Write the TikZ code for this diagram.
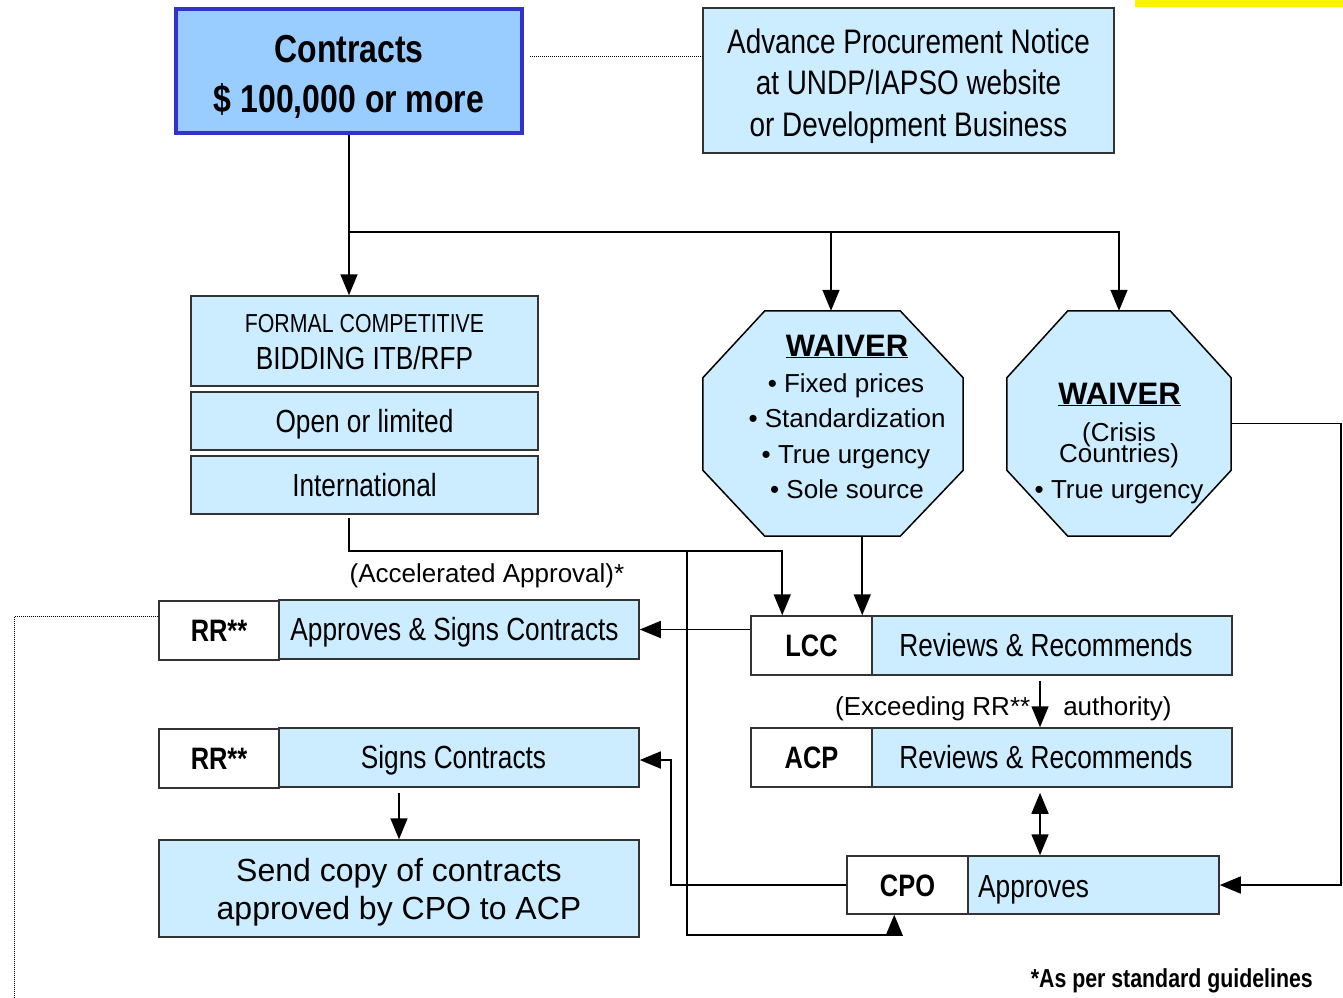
\documentclass[tikz,border=0pt]{standalone}
\usepackage{fontspec}
\setmainfont{Liberation Sans}
\newfontfamily\nar[FakeStretch=0.82]{Liberation Sans}
\usetikzlibrary{arrows.meta}
\definecolor{lightb}{HTML}{CCECFF}
\definecolor{medb}{HTML}{99CCFF}
\definecolor{bordb}{HTML}{3333CC}
\definecolor{bord}{HTML}{333333}
\newcommand\fsz[1]{\fontsize{#1}{#1}\selectfont}
\begin{document}
\begin{tikzpicture}[x=1pt,y=-1pt,
  box/.style={draw=bord,line width=1.5pt,fill=lightb,inner sep=0pt,text depth=0pt},
  wbox/.style={box,fill=white},
  nr/.style={font=\nar\fsz{32},text height=22.9pt},
  nb/.style={font=\nar\bfseries\fsz{31},text height=22.2pt},
  txt/.style={inner sep=0pt,anchor=base},
  arr/.style={line width=1.6pt,-{Triangle[width=17pt,length=21pt]}},
  darr/.style={line width=1.6pt,{Triangle[width=17pt,length=21pt]}-{Triangle[width=17pt,length=21pt]}},
  dots/.style={line width=1pt,dash pattern=on 1pt off 1pt},
  oct/.style={draw=black,line width=1.5pt,fill=lightb}]

\useasboundingbox (0,0) rectangle (1343,997);
\fill[yellow] (1135,0) rectangle (1343,7);

% top boxes
\node[box,fill=medb,draw=bordb,line width=4pt,minimum width=346pt,minimum height=124pt] (contracts) at (349,71) {};
\node[txt,font=\nar\bfseries\fsz{39}] (c1) at (349,62) {Contracts};
\node[txt,font=\nar\bfseries\fsz{39}] (c2) at (349,112) {\$ 100,000 or more};

\node[box,minimum width=411pt,minimum height=145pt] (adv) at (908.5,80.5) {};
\node[txt,font=\nar\fsz{34}] (a1) at (908.5,53) {Advance Procurement Notice};
\node[txt,font=\nar\fsz{34}] (a2) at (908.5,94) {at UNDP/IAPSO website};
\node[txt,font=\nar\fsz{34}] (a3) at (908.5,136) {or Development Business};

% formal bidding
\node[box,minimum width=347pt,minimum height=90pt] (formal) at (364.5,341) {};
\node[txt,font=\nar\fsz{26}] (f1) at (364.5,332) {FORMAL COMPETITIVE};
\node[txt,font=\nar\fsz{32}] (f2) at (364.5,369) {BIDDING ITB/RFP};
\node[box,nr,minimum width=347pt,minimum height=58pt] (openl) at (364.5,421) {Open or limited};
\node[box,nr,minimum width=347pt,minimum height=58pt] (intl) at (364.5,485) {International};

% waiver 1
\node[minimum width=260pt,minimum height=225pt,inner sep=0pt] (w1) at (833,423.5) {};
\draw[oct] ([xshift=62pt]w1.north west) -- ([xshift=-63pt]w1.north east) -- ([yshift=-67pt]w1.north east)
  -- ([yshift=66pt]w1.south east) -- ([xshift=-63pt]w1.south east) -- ([xshift=62pt]w1.south west)
  -- ([yshift=66pt]w1.south west) -- ([yshift=-67pt]w1.north west) -- cycle;
\node[txt,font=\bfseries\fsz{31}] (w1t) at (847,356) {\underline{WAIVER}};
\node[txt,font=\fsz{26}] (w1a) at (846,392) {\textbullet\ Fixed prices};
\node[txt,font=\fsz{26}] (w1b) at (847,427) {\textbullet\ Standardization};
\node[txt,font=\fsz{26}] (w1c) at (846,463) {\textbullet\ True urgency};
\node[txt,font=\fsz{26}] (w1d) at (847,498) {\textbullet\ Sole source};

% waiver 2
\node[minimum width=224pt,minimum height=225pt,inner sep=0pt] (w2) at (1119,423.5) {};
\draw[oct] ([xshift=61pt]w2.north west) -- ([xshift=-61pt]w2.north east) -- ([yshift=-67pt]w2.north east)
  -- ([yshift=66pt]w2.south east) -- ([xshift=-61pt]w2.south east) -- ([xshift=61pt]w2.south west)
  -- ([yshift=66pt]w2.south west) -- ([yshift=-67pt]w2.north west) -- cycle;
\node[txt,font=\bfseries\fsz{31}] (w2t) at (1119.5,404) {\underline{WAIVER}};
\node[txt,font=\fsz{26}] (w2a) at (1119,441) {(Crisis};
\node[txt,font=\fsz{26}] (w2b) at (1119,462) {Countries)};
\node[txt,font=\fsz{26}] (w2c) at (1119,498) {\textbullet\ True urgency};

% RR boxes
\node[box,nr,minimum width=360pt,minimum height=59pt] (rr1b) at (459,629.5) {Approves \& Signs Contracts\hspace*{9pt}};
\node[wbox,nb,minimum width=120pt,minimum height=59pt] (rr1w) at (219,630.5) {RR**};
\node[box,nr,minimum width=360pt,minimum height=59pt] (rr2b) at (459,757.5) {Signs Contracts\hspace*{11pt}};
\node[wbox,nb,minimum width=120pt,minimum height=59pt] (rr2w) at (219,758.5) {RR**};
\node[box,minimum width=480pt,minimum height=97pt] (send) at (399,888.5) {};
\node[txt,font=\fsz{32}] (s1) at (399,881) {Send copy of contracts};
\node[txt,font=\fsz{32}] (s2) at (399,919) {approved by CPO to ACP};

% LCC / ACP / CPO
\node[box,nr,minimum width=360pt,minimum height=59pt] (lccr) at (1052,645.5) {Reviews \& Recommends\hspace*{12pt}};
\node[wbox,nb,minimum width=121pt,minimum height=59pt] (lcc) at (811.5,645.5) {LCC};
\node[box,nr,minimum width=360pt,minimum height=59pt] (acpr) at (1052,757.5) {Reviews \& Recommends\hspace*{12pt}};
\node[wbox,nb,minimum width=121pt,minimum height=59pt] (acp) at (811.5,757.5) {ACP};
\node[box,minimum width=251pt,minimum height=58pt] (cpor) at (1093.5,885) {};
\node[wbox,nb,minimum width=121pt,minimum height=58pt] (cpo) at (907.5,885) {CPO};
\node[txt,anchor=base west,font=\nar\fsz{32}] (appr) at (978,897) {Approves};

% labels
\node[txt,font=\fsz{26}] (accl) at (487,582) {(Accelerated Approval)*};
\node[txt,anchor=base west,font=\fsz{26}] (exl) at (835,715) {(Exceeding RR**\hspace{33pt}authority)};
\node[txt,anchor=base east,font=\nar\bfseries\fsz{26}] (foot) at (1313,987) {*As per standard guidelines};

% helper coordinates
\coordinate (br) at (349,232);
\coordinate (is) at (349,518);
\coordinate (jl) at (349,551);
\coordinate (acc) at (687,551);
\coordinate (low) at (687,935);
\coordinate (tur) at (671,760);
\coordinate (lccin) at ([xshift=32pt]lcc.north west);
\coordinate (lccin2) at ([xshift=112pt]lcc.north west);
\coordinate (cpoin) at ([xshift=48pt]cpo.south west);
\coordinate (pa) at ([xshift=-12pt,yshift=-5pt]lccr.south);
\coordinate (pb) at ([xshift=-12pt,yshift=-5pt]acpr.south);
\coordinate (sd) at (send.north |- rr2b.south);
\coordinate (dt) at ([xshift=6pt,yshift=15pt]contracts.east);
\coordinate (dd) at ([yshift=14pt]rr1w.west);
\coordinate (la) at ([yshift=-2pt]lcc.west |- rr1b.east);

% connectors
\draw[dots] (dt) -- (dt -| adv.west);
\draw[dots] (dd) -- ++(-144,0) -- ++(0,400);
\draw[arr] (contracts.south) -- (contracts.south |- formal.north);
\draw[arr] (br) -| ([xshift=-2pt]w1.north);
\draw[arr] (br) -| (w2.north);
\draw[arr] (is) -- (jl) -| (lccin);
\draw[arr] (acc) -- (low) -| (cpoin);
\draw[arr] (w1.south -| lccin2) -- (lccin2);
\draw[arr] (lcc.west |- rr1b.east) -- (rr1b.east);
\draw[arr] (pa) -- (pa |- acpr.north);
\draw[darr] (pb) -- (pb |- cpor.north);
\draw[arr] (cpo.west) -| (tur) -- (tur -| rr2b.east);
\draw[arr] (w2.east) -- ++(110,0) |- (cpor.east);
\draw[arr] ([yshift=-5pt]sd) -- (send.north);
\end{tikzpicture}
\end{document}
